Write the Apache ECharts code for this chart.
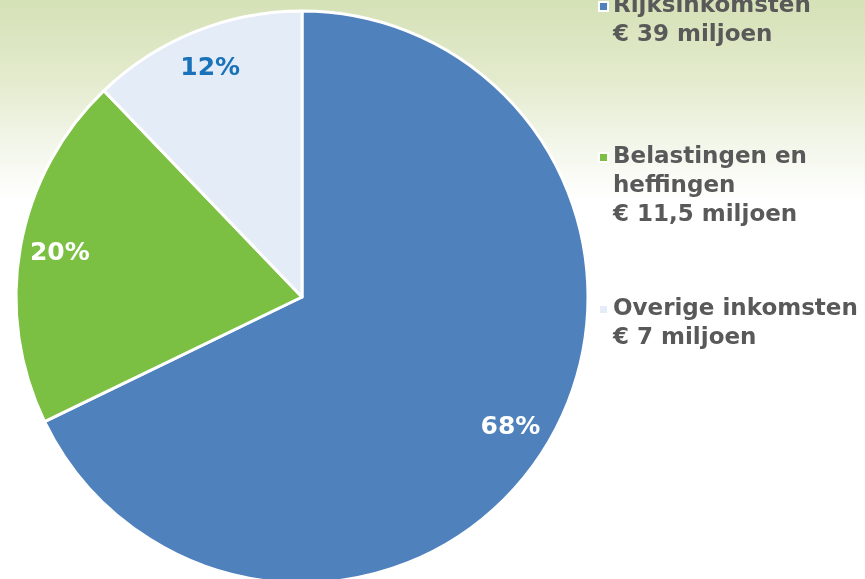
<!DOCTYPE html>
<html>
<head>
<meta charset="utf-8">
<script src="https://cdn.jsdelivr.net/npm/echarts@6/dist/echarts.min.js"></script>
<style>
  html, body { margin: 0; padding: 0; }
  #chart {
    width: 865px;
    height: 579px;
    background: linear-gradient(to bottom, #d5e1b7 0px, #e3ebcd 80px, #f4f7ec 150px, #ffffff 200px, #ffffff 100%);
  }
</style>
</head>
<body>
<div id="chart"></div>
<script>
// inkomsten (miljoen euro)
const names = ['Rijksinkomsten', 'Belastingen en heffingen', 'Overige inkomsten'];
const legendLines = [
  ['Rijksinkomsten', '€ 39 miljoen'],
  ['Belastingen en', 'heffingen', '€ 11,5 miljoen'],
  ['Overige inkomsten', '€ 7 miljoen']
];
const values = [39, 11.5, 7];
const colors = ['#4f81bd', '#7bc043', '#e4ecf7'];
const labelColors = ['#ffffff', '#ffffff', '#1a73ba'];

const chartDom = document.getElementById('chart');
const myChart = echarts.init(chartDom);

const pieData = names.map((n, i) => ({
  name: n,
  value: values[i],
  itemStyle: { color: colors[i] }
}));

const labelData = names.map((n, i) => ({
  name: n,
  value: values[i],
  label: { color: labelColors[i] }
}));

const legendTops = [-42, 80, 261];
const LH = 29;

const legends = names.map((n, i) => ({
  orient: 'vertical',
  left: 593,
  top: legendTops[i],
  icon: 'rect',
  itemWidth: 9,
  itemHeight: 9,
  itemGap: 0,
  selectedMode: false,
  data: [n],
  itemStyle: { borderColor: '#ffffff', borderWidth: 2 },
  formatter() {
    const lines = legendLines[i];
    // empty lines on top keep the marker beside the first line
    const pad = new Array(lines.length - 1).fill('');
    return pad.concat(lines).join('\n');
  },
  textStyle: {
    fontFamily: 'DejaVu Sans',
    fontWeight: 'bold',
    fontSize: 23,
    lineHeight: LH,
    color: '#595959',
    padding: [0, 0, 0, 0]
  }
}));

const option = {
  animation: false,
  backgroundColor: 'transparent',
  legend: legends,
  series: [
    {
      name: 'inkomsten',
      type: 'pie',
      center: [302, 297],
      radius: [0, 286],
      startAngle: 90,
      clockwise: true,
      silent: true,
      label: { show: false },
      labelLine: { show: false },
      itemStyle: { borderColor: '#ffffff', borderWidth: 3 },
      data: pieData
    },
    {
      // transparent ring used only to place the percentages near the rim
      name: 'labels',
      type: 'pie',
      center: [302, 297],
      radius: [200, 286],
      startAngle: 90,
      clockwise: true,
      silent: true,
      legendHoverLink: false,
      itemStyle: { color: 'rgba(0,0,0,0)' },
      labelLine: { show: false },
      label: {
        show: true,
        position: 'inside',
        fontFamily: 'DejaVu Sans',
        fontWeight: 'bold',
        fontSize: 25,
        formatter(p) {
          return Math.round(p.percent) + '%';
        }
      },
      data: labelData
    }
  ]
};

option && myChart.setOption(option);
</script>
</body>
</html>
